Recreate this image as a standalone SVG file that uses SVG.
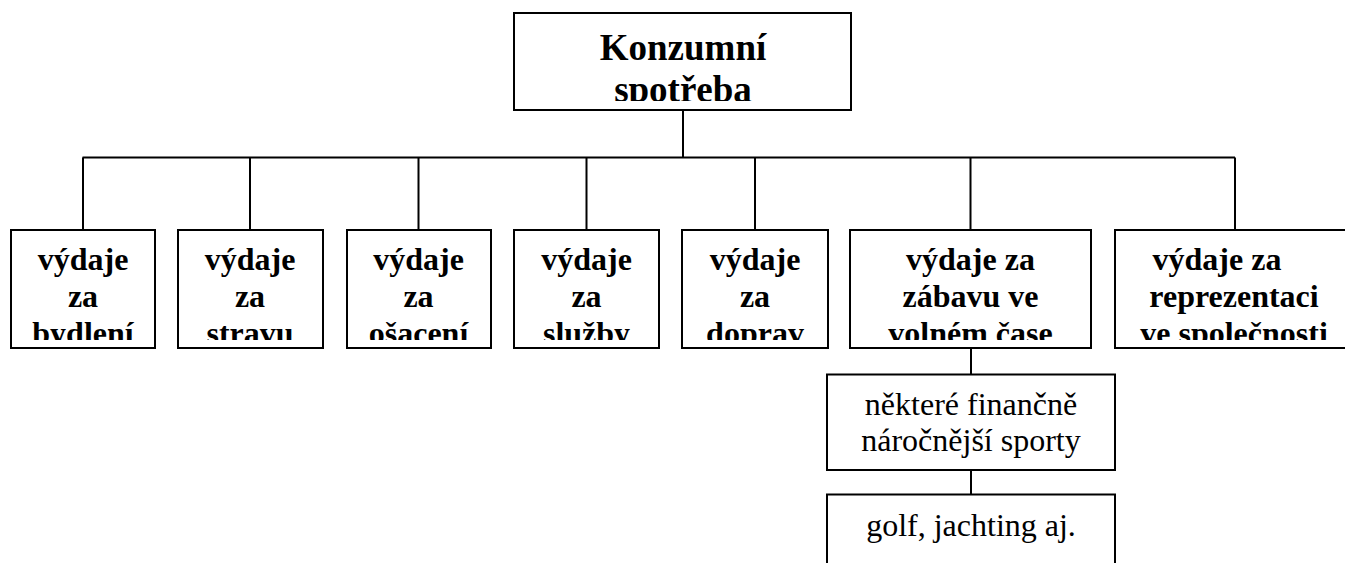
<svg xmlns="http://www.w3.org/2000/svg" width="1345" height="563" viewBox="0 0 1345 563">
<style>
.box{fill:#fff;stroke:#000;stroke-width:2}
.ln{stroke:#000;stroke-width:2;fill:none}
.t{font-family:'Liberation Serif','DejaVu Serif',serif;fill:#000;text-anchor:middle}
.b{font-weight:bold;font-size:32px}
.h{font-weight:bold;font-size:37px}
.r{font-size:32px}
</style>
<defs>
<clipPath id="clipTop"><rect x="514" y="13" width="337" height="88"/></clipPath>
<clipPath id="clipRow"><rect x="0" y="230" width="1345" height="110"/></clipPath>
</defs>
<rect width="1345" height="563" fill="#fff"/>
<g id="connectors">
<path class="ln" d="M683,110V157.5M82.5,157.5H1235M83,157.5V230M250,157.5V230M418.5,157.5V230M586.5,157.5V230M755,157.5V230M970.5,157.5V230M1235,157.5V230"/>
<path class="ln" d="M971,348V374.5M971,470V494.5"/>
</g>
<g id="root">
<rect class="box" x="514" y="13" width="337" height="97"/>
<g clip-path="url(#clipTop)">
<text class="t h" x="683" y="60">Konzumní</text>
<text class="t h" x="683" y="102">spotřeba</text>
</g>
</g>
<g id="n1">
<rect class="box" x="11" y="230" width="144" height="118"/>
<g clip-path="url(#clipRow)"><text class="t b" x="83" y="270">výdaje</text><text class="t b" x="83" y="307">za</text><text class="t b" x="83" y="344">bydlení</text></g>
</g>
<g id="n2">
<rect class="box" x="178" y="230" width="145" height="118"/>
<g clip-path="url(#clipRow)"><text class="t b" x="250" y="270">výdaje</text><text class="t b" x="250" y="307">za</text><text class="t b" x="250" y="344">stravu</text></g>
</g>
<g id="n3">
<rect class="box" x="347" y="230" width="144" height="118"/>
<g clip-path="url(#clipRow)"><text class="t b" x="418.5" y="270">výdaje</text><text class="t b" x="418.5" y="307">za</text><text class="t b" x="418.5" y="344">ošacení</text></g>
</g>
<g id="n4">
<rect class="box" x="514" y="230" width="145" height="118"/>
<g clip-path="url(#clipRow)"><text class="t b" x="586.5" y="270">výdaje</text><text class="t b" x="586.5" y="307">za</text><text class="t b" x="586.5" y="344">služby</text></g>
</g>
<g id="n5">
<rect class="box" x="682" y="230" width="146" height="118"/>
<g clip-path="url(#clipRow)"><text class="t b" x="755" y="270">výdaje</text><text class="t b" x="755" y="307">za</text><text class="t b" x="755" y="344">doprav</text></g>
</g>
<g id="n6">
<rect class="box" x="850" y="230" width="241" height="118"/>
<g clip-path="url(#clipRow)"><text class="t b" x="970.5" y="270">výdaje za</text><text class="t b" x="970.5" y="307">zábavu ve</text><text class="t b" x="970.5" y="344">volném čase</text></g>
</g>
<g id="n7">
<rect class="box" x="1115" y="230" width="240" height="118"/>
<g clip-path="url(#clipRow)"><text class="t b" x="1217" y="270">výdaje za</text><text class="t b" x="1234" y="307">reprezentaci</text><text class="t b" x="1234" y="344">ve společnosti</text></g>
</g>
<g id="c1">
<rect class="box" x="827" y="374.5" width="288" height="95.5"/>
<text class="t r" x="971" y="415">některé finančně</text>
<text class="t r" x="971" y="451">náročnější sporty</text>
</g>
<g id="c2">
<rect class="box" x="827" y="494.5" width="288" height="80"/>
<text class="t r" x="971" y="535.5">golf, jachting aj.</text>
</g>
</svg>
